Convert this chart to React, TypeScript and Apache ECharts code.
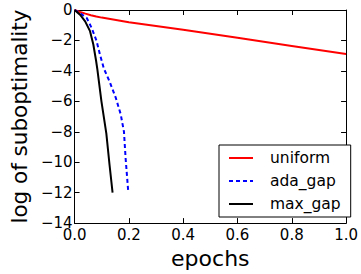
import React, { useEffect, useRef } from "react";
import * as echarts from "echarts";

const seriesNames = ["uniform", "ada_gap", "max_gap"];
const uniform: [number, number][] = [
  [0, 0], [0.02, -0.13], [0.04, -0.24], [0.06, -0.34], [0.08, -0.43], [0.1, -0.5],
  [0.2, -0.8], [0.4, -1.3], [0.6, -1.83], [0.8, -2.36], [1.0, -2.89],
];
const adaGap: [number, number][] = [
  [0, 0], [0.02, -0.2], [0.045, -0.53], [0.063, -1.18], [0.081, -2.03], [0.093, -2.89],
  [0.108, -3.85], [0.129, -4.7], [0.152, -5.78], [0.17, -6.85], [0.182, -8.0],
  [0.188, -9.74], [0.198, -12.0],
];
const maxGap: [number, number][] = [
  [0, 0], [0.021, -0.32], [0.039, -0.75], [0.057, -1.39], [0.069, -2.25], [0.079, -3.3],
  [0.084, -3.9], [0.099, -6.0], [0.117, -8.1], [0.129, -10.2], [0.14, -12.0],
];
const xTicks = { min: 0, max: 1, interval: 0.2 };
const yTicks = { min: -14, max: 0, interval: 2 };

const FONT = "DejaVu Sans";

export default function App() {
  const ref = useRef<HTMLDivElement>(null);
  useEffect(() => {
    const chart = echarts.init(ref.current!, null, { renderer: "svg" });
    const tick = { show: true, inside: true, length: 5, lineStyle: { color: "#000", width: 1 } };
    const line = { show: true, onZero: false, lineStyle: { color: "#000", width: 1 } };
    chart.setOption({
      animation: false,
      backgroundColor: "#fff",
      grid: { left: 74, right: 6, top: 10, bottom: 46, containLabel: false },
      legend: {
        orient: "vertical",
        left: 219,
        top: 145,
        padding: [5, 10, 5, 9],
        itemWidth: 24,
        itemHeight: 14,
        itemGap: 7,
        borderColor: "#000",
        borderWidth: 1,
        borderRadius: 0,
        backgroundColor: "#fff",
        itemStyle: { opacity: 0 },
        textStyle: { fontFamily: FONT, fontSize: 15.5, color: "#000", padding: [0, 0, 0, 12] },
        data: seriesNames,
      },
      xAxis: [
        {
          type: "value", ...xTicks, position: "bottom",
          name: "epochs", nameLocation: "middle", nameGap: 20,
          nameTextStyle: { fontFamily: FONT, fontSize: 22, color: "#000" },
          axisLine: line, axisTick: tick, splitLine: { show: false },
          axisLabel: {
            fontFamily: FONT, fontSize: 15, color: "#000", margin: 4,
            formatter: (v: number) => v.toFixed(1),
          },
        },
        {
          type: "value", ...xTicks, position: "top",
          axisLine: line, axisTick: tick, splitLine: { show: false }, axisLabel: { show: false },
        },
      ],
      yAxis: [
        {
          type: "value", ...yTicks, position: "left",
          name: "log of suboptimality", nameLocation: "middle", nameGap: 41,
          nameTextStyle: { fontFamily: FONT, fontSize: 21.5, color: "#000" },
          axisLine: line, axisTick: tick, splitLine: { show: false },
          axisLabel: {
            fontFamily: FONT, fontSize: 15, color: "#000", margin: 2,
            formatter: (v: number) => (v < 0 ? "\u2212" + Math.abs(v) : String(v)),
          },
        },
        {
          type: "value", ...yTicks, position: "right",
          axisLine: line, axisTick: tick, splitLine: { show: false }, axisLabel: { show: false },
        },
      ],
      series: [
        {
          name: seriesNames[0], type: "line", data: uniform, showSymbol: false, symbol: "none",
          lineStyle: { color: "#ff0000", width: 2 }, itemStyle: { color: "#ff0000" },
        },
        {
          name: seriesNames[1], type: "line", data: adaGap, showSymbol: false, symbol: "none",
          lineStyle: { color: "#0000ff", width: 2, type: [4, 3] }, itemStyle: { color: "#0000ff" },
        },
        {
          name: seriesNames[2], type: "line", data: maxGap, showSymbol: false, symbol: "none",
          lineStyle: { color: "#000000", width: 2 }, itemStyle: { color: "#000000" },
        },
      ],
    });
    return () => chart.dispose();
  }, []);
  return <div ref={ref} style={{ width: 361, height: 274, position: "absolute", left: 0, top: 0 }} />;
}
